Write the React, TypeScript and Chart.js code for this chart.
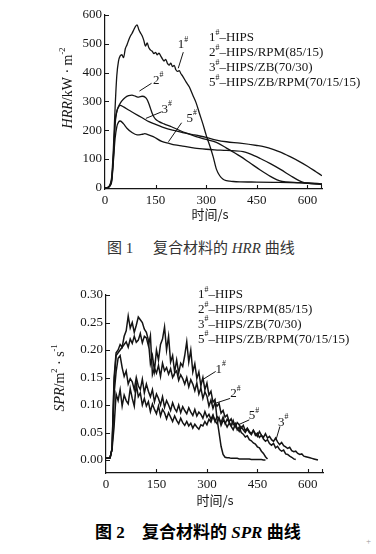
import React, { useEffect, useRef } from "react";
import { Chart, registerables } from "chart.js";

Chart.register(...registerables);

const FONT = "'Liberation Serif', 'Noto Sans CJK SC', serif";
const CJK_FONT = "'Noto Sans CJK SC', 'Liberation Serif', sans-serif";

// ---------------- Figure 1: HRR ----------------
const hrrXTicks = [0, 150, 300, 450, 600];
const hrrYTicks = [0, 100, 200, 300, 400, 500, 600];

const hrr1Time = [0, 10, 15, 20, 25, 30, 35, 40, 45, 50, 55, 60, 65, 70, 75, 80, 85, 90, 95, 100, 105, 110, 115, 120, 125, 130, 135, 140, 145, 150, 155, 160, 165, 170, 175, 180, 185, 190, 195, 200, 205, 210, 215, 220, 225, 230, 240, 250, 260, 270, 280, 290, 300, 310, 320, 330, 340, 350, 360, 370, 380, 400, 450, 500, 550, 600, 643];
const hrr1 = [0, 3, 12, 40, 140, 280, 390, 440, 458, 462,
  452, 482, 496, 512, 526, 536, 548, 560, 566, 550,
  538, 528, 512, 492, 503, 486, 478, 474, 466, 470,
  462, 468, 458, 448, 440, 446, 432, 426, 433, 421,
  425, 410, 404, 407, 396, 388, 368, 350, 322, 295,
  258, 222, 182, 148, 110, 65, 42, 30, 25, 23,
  22, 21, 20, 19, 18, 16, 13];

const hrr2Time = [0, 10, 15, 20, 25, 30, 35, 40, 45, 50, 60, 70, 80, 90, 100, 110, 120, 125, 130, 135, 140, 145, 150, 160, 175, 197, 220, 246, 270, 300, 330, 360, 400, 430, 460, 490, 510, 525, 560, 600, 643];
const hrr2 = [0, 2, 10, 32, 115, 230, 265, 282, 293, 302, 314, 320, 322, 318, 315, 318, 314, 306, 292, 275, 258, 246, 238, 230, 222, 212, 200, 188, 178, 168, 158, 138, 110, 86, 62, 40, 28, 22, 19, 17, 14];

const hrr3Time = [0, 10, 15, 20, 25, 30, 35, 40, 45, 55, 70, 85, 100, 115, 130, 150, 170, 200, 230, 260, 281, 300, 330, 360, 400, 450, 470, 500, 520, 547, 575, 600, 625, 643];
const hrr3 = [0, 2, 9, 28, 105, 220, 265, 280, 286, 281, 270, 260, 250, 240, 230, 220, 211, 200, 192, 185, 180, 175, 166, 160, 155, 147, 143, 133, 124, 109, 92, 75, 56, 42];

const hrr5Time = [0, 10, 15, 20, 25, 30, 35, 40, 45, 55, 65, 80, 95, 110, 118, 125, 143, 168, 190, 207, 230, 266, 300, 325, 360, 409, 430, 460, 490, 520, 550, 575, 590, 610, 643];
const hrr5 = [0, 2, 7, 22, 95, 172, 212, 228, 232, 222, 207, 192, 184, 186, 188, 186, 178, 161, 154, 149, 145, 138, 134, 132, 130, 126, 118, 102, 84, 64, 42, 25, 18, 15, 12];

// ---------------- Figure 2: SPR ----------------
const sprXTicks = [0, 150, 300, 450, 600];
const sprYTicks = [0, 0.05, 0.1, 0.15, 0.2, 0.25, 0.3];

const sprTime = [
  0, 6, 12, 18, 24, 30, 36, 42, 48, 54,
  60, 66, 72, 78, 84, 90, 96, 102, 108, 114,
  120, 126, 132, 138, 144, 150, 156, 162, 168, 174,
  180, 186, 192, 198, 204, 210, 216, 222, 228, 234,
  240, 246, 252, 258, 264, 270, 276, 282, 288, 294,
  300, 306, 312, 318, 324, 330, 336, 342, 348, 354,
  360, 366, 372, 378, 384, 390, 396, 402, 408, 414,
  420, 426, 432, 438, 444, 450, 456, 462, 468, 474,
  480, 486, 492, 498, 504, 510, 516, 522, 528, 534,
  540, 546, 552, 558, 564, 570, 576, 582, 588, 594,
  600, 606, 612, 618, 624, 630, 636, 642];

const spr1 = [
  0.003, 0.003, 0.004, 0.02, 0.15, 0.195, 0.2, 0.21, 0.205, 0.225,
  0.235, 0.262, 0.24, 0.25, 0.232, 0.245, 0.26, 0.255, 0.25, 0.238,
  0.232, 0.218, 0.175, 0.19, 0.162, 0.2, 0.182, 0.21, 0.22, 0.242,
  0.2, 0.225, 0.178, 0.19, 0.16, 0.182, 0.158, 0.176, 0.17, 0.19,
  0.215, 0.178, 0.2, 0.16, 0.175, 0.148, 0.16, 0.135, 0.15, 0.128,
  0.14, 0.118, 0.125, 0.105, 0.11, 0.075, 0.05, 0.025, 0.01, 0.005,
  0.004, 0.004, 0.003, 0.003, 0.003, 0.003, 0.002, 0.002, 0.002, 0.002,
  0.002, 0.002, 0.001, 0.001, 0.001, 0.001, 0.001, 0.001, 0, 0];

const spr2 = [
  0.003, 0.003, 0.004, 0.02, 0.14, 0.19, 0.195, 0.2, 0.205, 0.21,
  0.215, 0.205, 0.22, 0.212, 0.225, 0.214, 0.218, 0.23, 0.213, 0.225,
  0.222, 0.208, 0.226, 0.155, 0.167, 0.158, 0.172, 0.152, 0.176, 0.162,
  0.168, 0.156, 0.166, 0.15, 0.158, 0.162, 0.145, 0.155, 0.148, 0.138,
  0.15, 0.133, 0.146, 0.138, 0.126, 0.14, 0.12, 0.131, 0.112, 0.124,
  0.116, 0.098, 0.109, 0.094, 0.104, 0.098, 0.103, 0.085, 0.09, 0.078,
  0.082, 0.07, 0.075, 0.064, 0.067, 0.055, 0.06, 0.05, 0.047, 0.042,
  0.044, 0.037, 0.035, 0.031, 0.029, 0.024, 0.022, 0.016, 0.012, 0.006,
  0.002];

const spr3 = [
  0.003, 0.003, 0.004, 0.02, 0.06, 0.12, 0.108, 0.128, 0.098, 0.118,
  0.108, 0.102, 0.13, 0.112, 0.098, 0.138, 0.115, 0.122, 0.1, 0.112,
  0.098, 0.106, 0.088, 0.102, 0.092, 0.084, 0.098, 0.08, 0.092, 0.086,
  0.075, 0.086, 0.078, 0.07, 0.08, 0.072, 0.066, 0.076, 0.068, 0.063,
  0.07, 0.062, 0.067, 0.058, 0.065, 0.06, 0.056, 0.064, 0.062, 0.07,
  0.064, 0.074, 0.069, 0.08, 0.071, 0.066, 0.077, 0.063, 0.072, 0.068,
  0.06, 0.067, 0.061, 0.055, 0.065, 0.058, 0.052, 0.06, 0.055, 0.05,
  0.056, 0.05, 0.046, 0.054, 0.048, 0.043, 0.052, 0.045, 0.041, 0.048,
  0.04, 0.043, 0.037, 0.034, 0.04, 0.033, 0.028, 0.032, 0.026, 0.024,
  0.021, 0.023, 0.017, 0.015, 0.016, 0.012, 0.01, 0.011, 0.007, 0.006,
  0.005, 0.004, 0.003, 0.002, 0.001, 0];

const spr5 = [
  0.003, 0.003, 0.004, 0.02, 0.12, 0.16, 0.185, 0.19, 0.168, 0.152,
  0.162, 0.138, 0.148, 0.142, 0.128, 0.15, 0.135, 0.128, 0.147, 0.122,
  0.138, 0.125, 0.115, 0.128, 0.106, 0.12, 0.112, 0.1, 0.115, 0.096,
  0.108, 0.1, 0.09, 0.104, 0.094, 0.088, 0.1, 0.086, 0.097, 0.09,
  0.084, 0.095, 0.087, 0.081, 0.092, 0.08, 0.087, 0.083, 0.076, 0.088,
  0.078, 0.083, 0.074, 0.082, 0.07, 0.079, 0.075, 0.068, 0.078, 0.066,
  0.074, 0.069, 0.063, 0.072, 0.06, 0.068, 0.064, 0.058, 0.063, 0.053,
  0.058, 0.052, 0.048, 0.054, 0.045, 0.049, 0.041, 0.045, 0.038, 0.034,
  0.037, 0.03, 0.027, 0.03, 0.022, 0.025, 0.019, 0.016, 0.018, 0.011,
  0.01, 0.007, 0.005, 0.002, 0.001];

const sampleNums = ["1", "2", "3", "5"];
const sampleNames = ["HIPS", "HIPS/RPM(85/15)", "HIPS/ZB(70/30)", "HIPS/ZB/RPM(70/15/15)"];

type CurveLabel = { num: string; t: number; v: number; t1: number; v1: number; t2: number; v2: number };

const hrrCurveLabels: CurveLabel[] = [
  { num: "1", t: 231, v: 496, t1: 232, v1: 471, t2: 217, v2: 415 },
  { num: "2", t: 158, v: 374, t1: 138, v1: 363, t2: 102, v2: 336 },
  { num: "3", t: 183, v: 272, t1: 168, v1: 264, t2: 121, v2: 241 },
  { num: "5", t: 257, v: 241, t1: 227, v1: 226, t2: 188, v2: 160 },
];

const sprCurveLabels: CurveLabel[] = [
  { num: "1", t: 341, v: 0.165, t1: 326, v1: 0.161, t2: 284, v2: 0.145 },
  { num: "2", t: 385, v: 0.12, t1: 369, v1: 0.112, t2: 324, v2: 0.103 },
  { num: "5", t: 440, v: 0.08, t1: 426, v1: 0.073, t2: 393, v2: 0.064 },
  { num: "3", t: 527, v: 0.068, t1: 517, v1: 0.061, t2: 505, v2: 0.036 },
];

type Part = { t: string; it?: boolean; sup?: boolean };

function setFont(ctx: CanvasRenderingContext2D, size: number, italic?: boolean) {
  ctx.font = `${italic ? "italic " : ""}${size}px ${FONT}`;
}

function drawParts(ctx: CanvasRenderingContext2D, parts: Part[], x: number, y: number, size: number, align: "left" | "center") {
  const sizes = parts.map((p) => (p.sup ? size * 0.6 : size));
  const widths = parts.map((p, i) => {
    setFont(ctx, sizes[i], p.it);
    return ctx.measureText(p.t).width;
  });
  const total = widths.reduce((a, b) => a + b, 0);
  let cx = align === "center" ? x - total / 2 : x;
  ctx.textAlign = "left";
  ctx.textBaseline = "middle";
  parts.forEach((p, i) => {
    setFont(ctx, sizes[i], p.it);
    ctx.fillText(p.t, cx, p.sup ? y - size * 0.4 : y);
    cx += widths[i];
  });
}

type Decor = {
  legendX: number;
  legendY: number;
  legendStep: number;
  yTitle: Part[];
  yTitleX: number;
  yTitleY: number;
  xTitleX: number;
  xTitleY: number;
  labels: CurveLabel[];
  xTicks: number[];
  yTicks: number[];
};

function makeDecorPlugin(d: Decor) {
  return {
    id: "decor",
    afterDraw(chart: any) {
      const ctx: CanvasRenderingContext2D = chart.ctx;
      const xs = chart.scales.x;
      const ys = chart.scales.y;
      const a = chart.chartArea;
      ctx.save();
      ctx.strokeStyle = "#151515";
      ctx.fillStyle = "#151515";
      ctx.lineWidth = 1.1;
      ctx.beginPath();
      d.yTicks.forEach((v) => {
        const py = Math.round(ys.getPixelForValue(v)) + 0.5;
        ctx.moveTo(a.left, py);
        ctx.lineTo(a.left + 4, py);
      });
      d.xTicks.forEach((v) => {
        if (v === 0) return;
        const px = Math.round(xs.getPixelForValue(v)) + 0.5;
        ctx.moveTo(px, a.bottom);
        ctx.lineTo(px, a.bottom - 4);
      });
      ctx.moveTo(a.right - 0.5, a.bottom);
      ctx.lineTo(a.right - 0.5, a.bottom - 4);
      ctx.stroke();

      sampleNums.forEach((n, i) => {
        drawParts(ctx, [{ t: n }, { t: "#", sup: true }, { t: "–" + sampleNames[i] }], d.legendX, d.legendY + i * d.legendStep, 13, "left");
      });

      ctx.lineWidth = 1;
      d.labels.forEach((l) => {
        ctx.beginPath();
        ctx.moveTo(xs.getPixelForValue(l.t1), ys.getPixelForValue(l.v1));
        ctx.lineTo(xs.getPixelForValue(l.t2), ys.getPixelForValue(l.v2));
        ctx.stroke();
        drawParts(ctx, [{ t: l.num }, { t: "#", sup: true }], xs.getPixelForValue(l.t), ys.getPixelForValue(l.v), 13, "center");
      });

      ctx.save();
      ctx.translate(d.yTitleX, d.yTitleY);
      ctx.rotate(-Math.PI / 2);
      drawParts(ctx, d.yTitle, 0, 0, 14, "center");
      ctx.restore();

      ctx.font = `13px ${CJK_FONT}`;
      ctx.textAlign = "center";
      ctx.textBaseline = "middle";
      ctx.fillText("时间/s", d.xTitleX, d.xTitleY);
      ctx.restore();
    },
  };
}

type ChartProps = {
  top: number;
  height: number;
  area: { left: number; right: number; top: number; bottom: number };
  xMax: number;
  yMin: number;
  yMax: number;
  xTicks: number[];
  yTicks: number[];
  yDigits: number;
  series: { x: number; y: number }[][];
  smooth: boolean;
  decor: Decor;
};

const W = 376;

function FigureChart(p: ChartProps) {
  const ref = useRef<HTMLCanvasElement>(null);
  useEffect(() => {
    const canvas = ref.current!;
    const tickFont = { family: FONT, size: 13 };
    const chart = new Chart(canvas, {
      type: "line",
      data: {
        datasets: p.series.map((s) => ({
          data: s,
          borderColor: "#141414",
          borderWidth: p.smooth ? 1.3 : 1.5,
          pointRadius: 0,
          fill: false,
          cubicInterpolationMode: p.smooth ? "monotone" : "default",
          tension: 0,
          borderJoinStyle: "miter",
        })),
      },
      options: {
        responsive: false,
        animation: false,
        events: [],
        layout: { padding: { left: 0, top: p.area.top, right: W - p.area.right, bottom: 0 } },
        plugins: { legend: { display: false }, tooltip: { enabled: false } },
        scales: {
          x: {
            type: "linear",
            min: 0,
            max: p.xMax,
            afterBuildTicks: (s: any) => {
              s.ticks = p.xTicks.map((v) => ({ value: v }));
            },
            afterFit: (s: any) => {
              s.height = p.height - p.area.bottom;
            },
            grid: { display: false, drawTicks: false },
            border: { display: true, color: "#151515", width: 1.2 },
            ticks: {
              font: tickFont,
              color: "#151515",
              padding: 4,
              maxRotation: 0,
              autoSkip: false,
              callback: (v: any) => String(v),
            },
          },
          y: {
            type: "linear",
            min: p.yMin,
            max: p.yMax,
            afterBuildTicks: (s: any) => {
              s.ticks = p.yTicks.map((v) => ({ value: v }));
            },
            afterFit: (s: any) => {
              s.width = p.area.left;
            },
            grid: { display: false, drawTicks: false },
            border: { display: true, color: "#151515", width: 1.2 },
            ticks: {
              font: tickFont,
              color: "#151515",
              padding: 3,
              autoSkip: false,
              callback: (v: any) => Number(v).toFixed(p.yDigits),
            },
          },
        },
      } as any,
      plugins: [makeDecorPlugin(p.decor)],
    });
    return () => chart.destroy();
  }, []);
  return (
    <canvas
      ref={ref}
      width={W}
      height={p.height}
      style={{ position: "absolute", left: 0, top: p.top, width: W, height: p.height }}
    />
  );
}

function pairs(times: number[], values: number[]) {
  return values.map((v, i) => ({ x: times[i], y: v }));
}

export default function App() {
  const hrrSeries = [pairs(hrr1Time, hrr1), pairs(hrr2Time, hrr2), pairs(hrr3Time, hrr3), pairs(hrr5Time, hrr5)];
  const sprSeries = [pairs(sprTime, spr1), pairs(sprTime, spr2), pairs(sprTime, spr3), pairs(sprTime, spr5)];

  const captionBase: React.CSSProperties = {
    position: "absolute",
    whiteSpace: "nowrap",
    color: "#1a1a1a",
  };

  return (
    <div style={{ position: "absolute", left: 0, top: 0, width: W, height: 554, background: "#fff", overflow: "hidden" }}>
      <FigureChart
        top={0}
        height={228}
        area={{ left: 105, right: 322, top: 15, bottom: 189 }}
        xMax={643}
        yMin={-4}
        yMax={600}
        xTicks={hrrXTicks}
        yTicks={hrrYTicks}
        yDigits={0}
        series={hrrSeries}
        smooth={true}
        decor={{
          legendX: 209,
          legendY: 38,
          legendStep: 14.9,
          yTitle: [{ t: "HRR", it: true }, { t: "/kW · m" }, { t: "-2", sup: true }],
          yTitleX: 68,
          yTitleY: 88,
          xTitleX: 210,
          xTitleY: 214,
          labels: hrrCurveLabels,
          xTicks: hrrXTicks,
          yTicks: hrrYTicks,
        }}
      />
      <div style={{ ...captionBase, top: 238, left: 0, height: 20, lineHeight: "20px", fontSize: 15, fontFamily: FONT, color: "#333" }}>
        <span style={{ position: "absolute", left: 107 }}>图 1</span>
        <span style={{ position: "absolute", left: 153 }}>
          复合材料的 <i>HRR</i> 曲线
        </span>
      </div>
      <FigureChart
        top={280}
        height={228}
        area={{ left: 106, right: 323, top: 15, bottom: 193 }}
        xMax={645}
        yMin={-0.0236}
        yMax={0.3}
        xTicks={sprXTicks}
        yTicks={sprYTicks}
        yDigits={2}
        series={sprSeries}
        smooth={false}
        decor={{
          legendX: 198,
          legendY: 15,
          legendStep: 14.8,
          yTitle: [{ t: "SPR", it: true }, { t: "/m" }, { t: "2", sup: true }, { t: " · s" }, { t: "-1", sup: true }],
          yTitleX: 60,
          yTitleY: 98,
          xTitleX: 215,
          xTitleY: 220,
          labels: sprCurveLabels,
          xTicks: sprXTicks,
          yTicks: sprYTicks,
        }}
      />
      <div style={{ ...captionBase, top: 522, left: 0, height: 22, lineHeight: "22px", fontSize: 17, fontWeight: 700, fontFamily: FONT, color: "#000" }}>
        <span style={{ position: "absolute", left: 95 }}>图 2</span>
        <span style={{ position: "absolute", left: 142 }}>
          复合材料的 <i>SPR</i> 曲线
        </span>
      </div>
      <div style={{ position: "absolute", left: 366, top: 536, fontSize: 9, color: "#999", fontFamily: FONT }}>+</div>
    </div>
  );
}
